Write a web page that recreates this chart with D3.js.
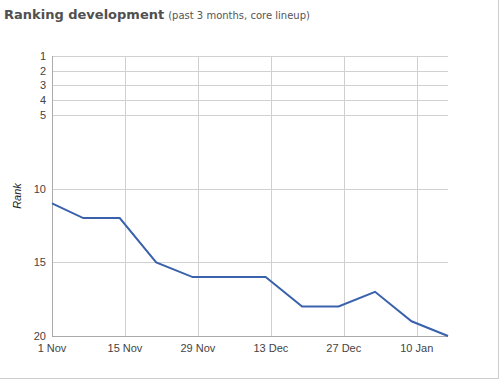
<!DOCTYPE html>
<html><head><meta charset="utf-8">
<script src="https://cdn.jsdelivr.net/npm/d3@7"></script>
<style>body{margin:0;background:#fff}svg{display:block}</style>
</head><body>
<script>
const dates = ["2010-11-01","2010-11-07","2010-11-14","2010-11-21","2010-11-28","2010-12-05","2010-12-12","2010-12-19","2010-12-26","2011-01-02","2011-01-09","2011-01-16"];
const ranks = [11,12,12,15,16,16,16,18,18,17,19,20];
const rankTicks = [1,2,3,4,5,10,15,20];
const dateTicks = ["2010-11-01","2010-11-15","2010-11-29","2010-12-13","2010-12-27","2011-01-10"];
const dateTickLabels = ["1 Nov","15 Nov","29 Nov","13 Dec","27 Dec","10 Jan"];

const W=500,H=380;
const svg=d3.select("body").append("svg").attr("width",W).attr("height",H);
const parse=d3.utcParse("%Y-%m-%d");
const x=d3.scaleUtc().domain([parse("2010-11-01"),parse("2011-01-16")]).range([52,448]);
const y=d3.scaleLinear().domain([1,20]).range([56,336]);

// frame
svg.append("line").attr("x1",498.5).attr("x2",498.5).attr("y1",0).attr("y2",379).attr("stroke","#ccc");
svg.append("line").attr("x1",0).attr("x2",499).attr("y1",378.5).attr("y2",378.5).attr("stroke","#ccc");

// title
const t=svg.append("text").attr("x",4).attr("y",19).attr("font-family","DejaVu Sans, Verdana, sans-serif");
t.append("tspan").attr("font-size",13).attr("font-weight","bold").attr("fill","#505050").text("Ranking development");
t.append("tspan").attr("font-size",10).attr("fill","#555").attr("dx",4).text("(past 3 months, core lineup)");

// grid
svg.append("g").selectAll("line").data(rankTicks).join("line")
  .attr("x1",52).attr("x2",448).attr("y1",d=>Math.round(y(d))+0.5).attr("y2",d=>Math.round(y(d))+0.5)
  .attr("stroke","#d0d0d0");
svg.append("g").selectAll("line").data(dateTicks.slice(1)).join("line")
  .attr("x1",d=>Math.round(x(parse(d)))+0.5).attr("x2",d=>Math.round(x(parse(d)))+0.5).attr("y1",56).attr("y2",336)
  .attr("stroke","#d0d0d0");
// axes lines
svg.append("line").attr("x1",52.5).attr("x2",52.5).attr("y1",56).attr("y2",336.5).attr("stroke","#aaa");
svg.append("line").attr("x1",52).attr("x2",448).attr("y1",336.5).attr("y2",336.5).attr("stroke","#aaa");

// tick labels
svg.append("g").selectAll("text").data(rankTicks).join("text")
  .attr("x",46).attr("y",d=>y(d)+4).attr("text-anchor","end")
  .attr("font-family","Liberation Sans, Arial, sans-serif").attr("font-size",11).attr("fill","#444").text(d=>d);
svg.append("g").selectAll("text").data(dateTicks).join("text")
  .attr("x",d=>x(parse(d))).attr("y",352).attr("text-anchor","middle")
  .attr("font-family","Liberation Sans, Arial, sans-serif").attr("font-size",11).attr("fill","#444")
  .text((d,i)=>dateTickLabels[i]);
svg.append("text").attr("transform","translate(21,196) rotate(-90)").attr("text-anchor","middle")
  .attr("font-family","Liberation Sans, Arial, sans-serif").attr("font-size",11).attr("font-style","italic").attr("fill","#222").text("Rank");

// line
const line=d3.line().x((d,i)=>x(parse(dates[i]))).y(d=>y(d));
svg.append("path").datum(ranks).attr("d",line).attr("fill","none").attr("stroke","#3a62ac").attr("stroke-width",2);
</script>
</body></html>
